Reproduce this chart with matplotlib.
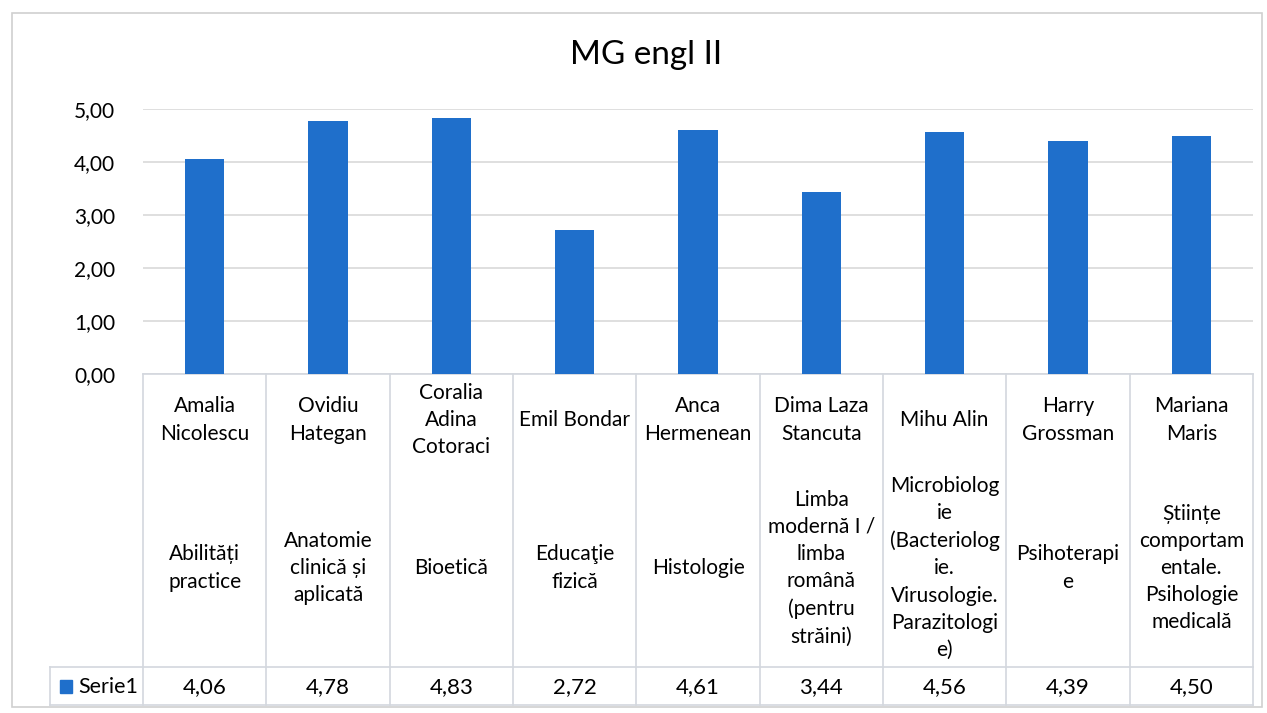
import matplotlib
matplotlib.use("Agg")
import matplotlib.pyplot as plt
from matplotlib.patches import Rectangle
from matplotlib.ticker import FuncFormatter, MultipleLocator

plt.rcParams["font.family"] = ["Lato", "DejaVu Sans"]

names = [
    "Amalia\nNicolescu", "Ovidiu\nHategan", "Coralia\nAdina\nCotoraci",
    "Emil Bondar", "Anca\nHermenean", "Dima Laza\nStancuta", "Mihu Alin",
    "Harry\nGrossman", "Mariana\nMaris",
]
subjects = [
    "Abilități\npractice", "Anatomie\nclinică și\naplicată", "Bioetică",
    "Educaţie\nfizică", "Histologie",
    "Limba\nmodernă I /\nlimba\nromână\n(pentru\nstrăini)",
    "Microbiolog\nie\n(Bacteriolog\nie.\nVirusologie.\nParazitologi\ne)",
    "Psihoterapi\ne",
    "Științe\ncomportam\nentale.\nPsihologie\nmedicală",
]
values = [4.06, 4.78, 4.83, 2.72, 4.61, 3.44, 4.56, 4.39, 4.50]
series_name = "Serie1"
title = "MG engl II"

W, H = 1267, 713
BAR = "#1f6fcb"
GRID = "#d9d9d9"
LINE = "#d3d7de"

fig = plt.figure(figsize=(W / 100, H / 100), dpi=100)
fig.patch.set_facecolor("white")
fig.add_artist(Rectangle((12 / W, 1 - 707 / H), 1250 / W, 694 / H,
                         transform=fig.transFigure, fill=False,
                         edgecolor="#d0d0d0", lw=1.2))

# plot area in pixels: x 143..1253, y 109 (5.00) .. 374 (0.00)
ax = fig.add_axes([143 / W, 1 - 374 / H, 1110 / W, 265 / H])
ax_h = 265.0

def yax(px):
    return (374 - px) / ax_h

x = list(range(len(values)))
ax.bar(x, values, width=0.32, color=BAR, zorder=3)
ax.set_xlim(-0.5, len(values) - 0.5)
ax.set_ylim(0, 5)
ax.yaxis.set_major_locator(MultipleLocator(1))
ax.yaxis.set_major_formatter(FuncFormatter(lambda v, p: f"{v:.2f}".replace(".", ",")))
ax.grid(axis="y", color=GRID, lw=1.2, zorder=0)
ax.tick_params(axis="y", length=0, pad=20, labelsize=15)
ax.tick_params(axis="x", length=0, labelbottom=False)
for s in ax.spines.values():
    s.set_visible(False)

fig.suptitle(title, x=0.51, y=1 - 40 / H, fontsize=24, va="top")

tr = ax.get_xaxis_transform()
top, mid, bot = yax(374), yax(667), yax(705)
left_lab = -0.5 - 93 / 123.3

# table grid
for i in range(len(values) + 1):
    ax.plot([i - 0.5, i - 0.5], [top, bot], color=LINE, lw=1.2,
            transform=tr, clip_on=False)
ax.plot([left_lab, left_lab], [mid, bot], color=LINE, lw=1.2,
        transform=tr, clip_on=False)
ax.plot([-0.5, len(values) - 0.5], [top, top], color=LINE, lw=1.2,
        transform=tr, clip_on=False)
for yy in (mid, bot):
    ax.plot([left_lab, len(values) - 0.5], [yy, yy], color=LINE, lw=1.2,
            transform=tr, clip_on=False)

for i, (n, s, v) in enumerate(zip(names, subjects, values)):
    ax.text(i, yax(420), n, transform=tr, ha="center", va="center",
            fontsize=15, linespacing=1.45)
    ax.text(i, yax(568), s, transform=tr, ha="center", va="center",
            fontsize=15, linespacing=1.45)
    ax.text(i, yax(687), f"{v:.2f}".replace(".", ","), transform=tr,
            ha="center", va="center", fontsize=16)

# legend key in the table row
ax.add_patch(Rectangle((left_lab + 0.08, yax(693)), 0.1, 13 / ax_h,
                       transform=tr, color=BAR, clip_on=False))
ax.text(left_lab + 0.23, yax(687), series_name, transform=tr,
        ha="left", va="center", fontsize=15.5)

fig.savefig("out.png", dpi=100)
